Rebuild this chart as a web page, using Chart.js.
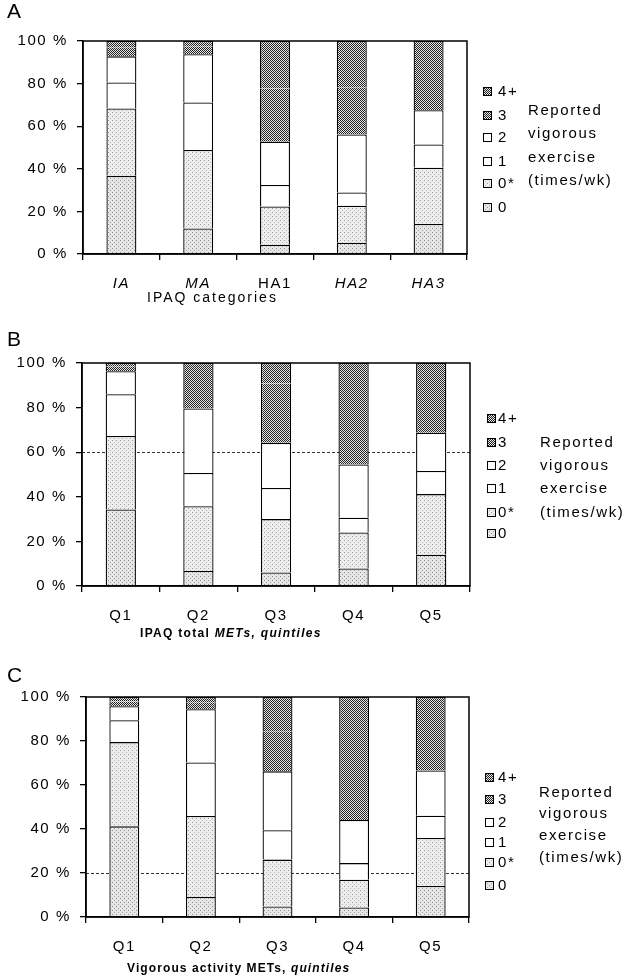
<!DOCTYPE html>
<html><head><meta charset="utf-8">
<script src="https://cdn.jsdelivr.net/npm/chart.js@4.4.1/dist/chart.umd.min.js"></script>
<style>
html,body{margin:0;padding:0;background:#fff;}
#wrap{position:relative;width:628px;height:980px;overflow:hidden;font-family:"Liberation Sans",Arial,sans-serif;color:#000;}
canvas.panel{position:absolute;left:0;}
.t{position:absolute;white-space:nowrap;line-height:16px;font-size:15px;letter-spacing:1.6px;}
.letter{position:absolute;font-size:21px;line-height:21px;}
.sw{position:absolute;width:9px;height:9px;}
.ax{position:absolute;white-space:nowrap;line-height:14px;}
</style></head><body><div id="wrap"></div>
<script>
// ---------- data ----------
const categoriesA = ['IA', 'MA', 'HA1', 'HA2', 'HA3'];
const categoriesQ = ['Q1', 'Q2', 'Q3', 'Q4', 'Q5'];
const seriesNames = ['0', '0*', '1', '2', '3', '4+'];
const yTickValues = [0, 20, 40, 60, 80, 100];
const yTickLabels = ['0 %', '20 %', '40 %', '60 %', '80 %', '100 %'];

// Panel A: IPAQ categories
const a_0  = [36.7, 12.0,  4.4,  5.3, 14.1];
const a_0s = [31.6, 36.8, 17.9, 17.4, 26.4];
const a_1  = [12.2, 22.3, 10.1,  6.2, 10.9];
const a_2  = [12.3, 22.7, 20.3, 27.2, 16.1];
const a_3  = [ 4.0,  3.5, 25.0, 22.0, 17.0];
const a_4  = [ 3.2,  2.7, 22.3, 21.9, 15.5];

// Panel B: IPAQ total METs quintiles
const b_0  = [34.3,  6.7,  6.1,  7.9, 14.0];
const b_0s = [33.0, 29.1, 23.9, 16.1, 27.2];
const b_1  = [18.7, 14.9, 14.0,  6.6, 10.4];
const b_2  = [10.3, 28.9, 20.2, 23.9, 17.1];
const b_3  = [ 2.0, 11.0, 26.6, 24.0, 16.0];
const b_4  = [ 1.7,  9.4,  9.2, 21.5, 15.3];

// Panel C: vigorous activity METs quintiles
const c_0  = [41.2,  9.1,  4.8,  4.3, 14.1];
const c_0s = [38.3, 36.8, 21.3, 12.6, 21.8];
const c_1  = [ 9.9, 24.3, 13.3,  7.6, 10.1];
const c_2  = [ 6.4, 24.2, 26.8, 19.6, 20.6];
const c_3  = [ 2.2,  3.0, 18.0, 30.0, 17.0];
const c_4  = [ 2.0,  2.6, 15.8, 25.9, 16.4];

const refLineB = 60;
const refLineC = 20;

const legendTitle = ['Reported', 'vigorous', 'exercise', '(times/wk)'];
const panelLetters = ['A', 'B', 'C'];
const axisTitleA = 'IPAQ categories';
const axisTitleB = 'IPAQ total METs, quintiles';
const axisTitleC = 'Vigorous activity METs, quintiles';

// ---------- patterns ----------
function tile(w, h, bg, dots) {
  const c = document.createElement('canvas');
  c.width = w; c.height = h;
  const x = c.getContext('2d');
  x.fillStyle = bg; x.fillRect(0, 0, w, h);
  dots.forEach(d => { x.fillStyle = d[2]; x.fillRect(d[0], d[1], 1, 1); });
  return c;
}
const tmpCtx = document.createElement('canvas').getContext('2d');
const tLight0  = tile(4, 4, '#e6e6e6', [[0,0,'#8c8c8c'],[2,2,'#a0a0a0']]);
const tLight0s = tile(4, 4, '#eeeeee', [[0,0,'#999999'],[2,2,'#b4b4b4']]);
const tDark    = tile(2, 2, '#e8e8e8', [[0,0,'#222222'],[1,1,'#222222']]);
const fills = [
  tmpCtx.createPattern(tLight0, 'repeat'),
  tmpCtx.createPattern(tLight0s, 'repeat'),
  '#ffffff', '#ffffff',
  tmpCtx.createPattern(tDark, 'repeat'),
  tmpCtx.createPattern(tDark, 'repeat')
];
const tiles = [tLight0, tLight0s, null, null, tDark, tDark];

// ---------- layout ----------
const wrap = document.getElementById('wrap');
const FONT = '"Liberation Sans", Arial, sans-serif';
const LS = '1.6px';

const framePlugin = {
  id: 'frame',
  beforeUpdate(c) { c.ctx.letterSpacing = LS; },
  beforeDraw(c) { c.ctx.letterSpacing = LS; },
  beforeDatasetsDraw(c, args, opts) {
    if (opts.ref == null) return;
    const ctx = c.ctx, a = c.chartArea;
    const y = Math.round(c.scales.y.getPixelForValue(opts.ref)) + 0.5;
    ctx.save();
    ctx.strokeStyle = '#333'; ctx.lineWidth = 1; ctx.setLineDash([3, 2]);
    ctx.beginPath(); ctx.moveTo(a.left, y); ctx.lineTo(a.right, y); ctx.stroke();
    ctx.restore();
  },
  afterDatasetsDraw(c) {
    const ctx = c.ctx, a = c.chartArea;
    ctx.save();
    ctx.strokeStyle = '#000'; ctx.lineWidth = 1.5;
    ctx.strokeRect(a.left, a.top, a.right - a.left, a.bottom - a.top);
    ctx.restore();
  }
};

function makePanel(p) {
  const cv = document.createElement('canvas');
  cv.className = 'panel';
  cv.width = 628; cv.height = p.h;
  cv.style.top = p.top + 'px';
  wrap.appendChild(cv);
  const series = p.series;
  const datasets = seriesNames.map((name, i) => ({
    label: name,
    data: series[i],
    backgroundColor: fills[i],
    borderColor: '#000',
    borderWidth: i === 4 ? {left: 1.3, right: 1.3, top: 0, bottom: 0} : 1.3,
    borderSkipped: i === 4 ? false : 'start',
    barPercentage: 0.39,
    categoryPercentage: 1,
    stack: 's'
  }));
  new Chart(cv, {
    type: 'bar',
    data: { labels: p.labels, datasets },
    plugins: [framePlugin],
    options: {
      responsive: false,
      animation: false,
      layout: { padding: { left: 0, right: 628 - p.right, top: p.areaTop, bottom: p.h - p.areaBottom - 40 } },
      plugins: { legend: { display: false }, tooltip: { enabled: false }, frame: { ref: p.ref } },
      scales: {
        x: {
          stacked: true,
          grid: { display: true, drawOnChartArea: false, drawTicks: true, tickLength: 6, color: '#000', lineWidth: 1.3, offset: true },
          border: { display: true, color: '#000', width: 1.5 },
          ticks: {
            color: '#000', padding: 15,
            font: (ctx) => ({ family: FONT, size: 15, style: (p.italic && p.italic[ctx.index]) ? 'italic' : 'normal' })
          },
          afterFit: (s) => { s.height = 40; }
        },
        y: {
          stacked: true, min: 0, max: 100,
          afterBuildTicks: (s) => { s.ticks = yTickValues.map(v => ({ value: v })); },
          grid: { display: true, drawOnChartArea: false, drawTicks: true, tickLength: 6, color: '#000', lineWidth: 1.3 },
          border: { display: true, color: '#000', width: 1.5 },
          ticks: {
            color: '#000', padding: 9,
            font: { family: FONT, size: 15 },
            callback: (v, i) => yTickLabels[i]
          },
          afterFit: (s) => { s.width = p.left; }
        }
      }
    }
  });

  // panel letter
  const L = document.createElement('div');
  L.className = 'letter'; L.textContent = p.letter;
  L.style.left = '7px'; L.style.top = p.letterTop + 'px';
  wrap.appendChild(L);

  // axis title
  const T = document.createElement('div');
  T.className = 'ax';
  T.innerHTML = p.title;
  Object.assign(T.style, p.titleStyle);
  wrap.appendChild(T);

  // legend (top-down: 4+,3,2,1,0*,0)
  for (let r = 0; r < 6; r++) {
    const si = 5 - r;
    const cy = p.rows[r];
    const sw = document.createElement('canvas');
    sw.className = 'sw'; sw.width = 9; sw.height = 9;
    sw.style.left = p.swX + 'px'; sw.style.top = (cy - 4) + 'px';
    const x = sw.getContext('2d');
    if (tiles[si]) { x.fillStyle = x.createPattern(tiles[si], 'repeat'); } else { x.fillStyle = '#fff'; }
    x.fillRect(0, 0, 9, 9);
    x.strokeStyle = '#000'; x.lineWidth = 1; x.strokeRect(0.5, 0.5, 8, 8);
    wrap.appendChild(sw);
    const t = document.createElement('div');
    t.className = 't'; t.textContent = seriesNames[si];
    t.style.left = p.txtX + 'px'; t.style.top = (cy - 8) + 'px';
    wrap.appendChild(t);
  }
  legendTitle.forEach((s, k) => {
    const t = document.createElement('div');
    t.className = 't'; t.textContent = s;
    t.style.left = p.sideX + 'px'; t.style.top = (p.side[k] - 8) + 'px';
    wrap.appendChild(t);
  });
}

makePanel({
  top: 0, h: 320, areaTop: 41, areaBottom: 254, left: 83, right: 467,
  labels: categoriesA, series: [a_0, a_0s, a_1, a_2, a_3, a_4], ref: null,
  italic: [true, true, false, true, true],
  letter: panelLetters[0], letterTop: 0,
  title: axisTitleA,
  titleStyle: { left: '147px', top: '290px', fontSize: '14px', letterSpacing: '2px' },
  rows: [91, 115, 137, 161, 183, 207], swX: 483, txtX: 498,
  sideX: 528, side: [110, 133, 157, 180]
});
makePanel({
  top: 320, h: 330, areaTop: 43, areaBottom: 266, left: 82, right: 470,
  labels: categoriesQ, series: [b_0, b_0s, b_1, b_2, b_3, b_4], ref: refLineB,
  letter: panelLetters[1], letterTop: 328,
  title: 'IPAQ total <i>METs, quintiles</i>',
  titleStyle: { left: '140px', top: '626px', fontSize: '12px', fontWeight: 'bold', letterSpacing: '1.3px' },
  rows: [418, 442, 465, 488, 512, 533], swX: 487, txtX: 498,
  sideX: 540, side: [442, 465, 488, 512]
});
makePanel({
  top: 650, h: 330, areaTop: 47, areaBottom: 267, left: 86, right: 469,
  labels: categoriesQ, series: [c_0, c_0s, c_1, c_2, c_3, c_4], ref: refLineC,
  letter: panelLetters[2], letterTop: 664,
  title: 'Vigorous activity METs, <i>quintiles</i>',
  titleStyle: { left: '127px', top: '961px', fontSize: '12px', fontWeight: 'bold', letterSpacing: '1.1px' },
  rows: [777, 799, 822, 842, 862, 885], swX: 485, txtX: 498,
  sideX: 539, side: [792, 813, 835, 857]
});
</script></body></html>
